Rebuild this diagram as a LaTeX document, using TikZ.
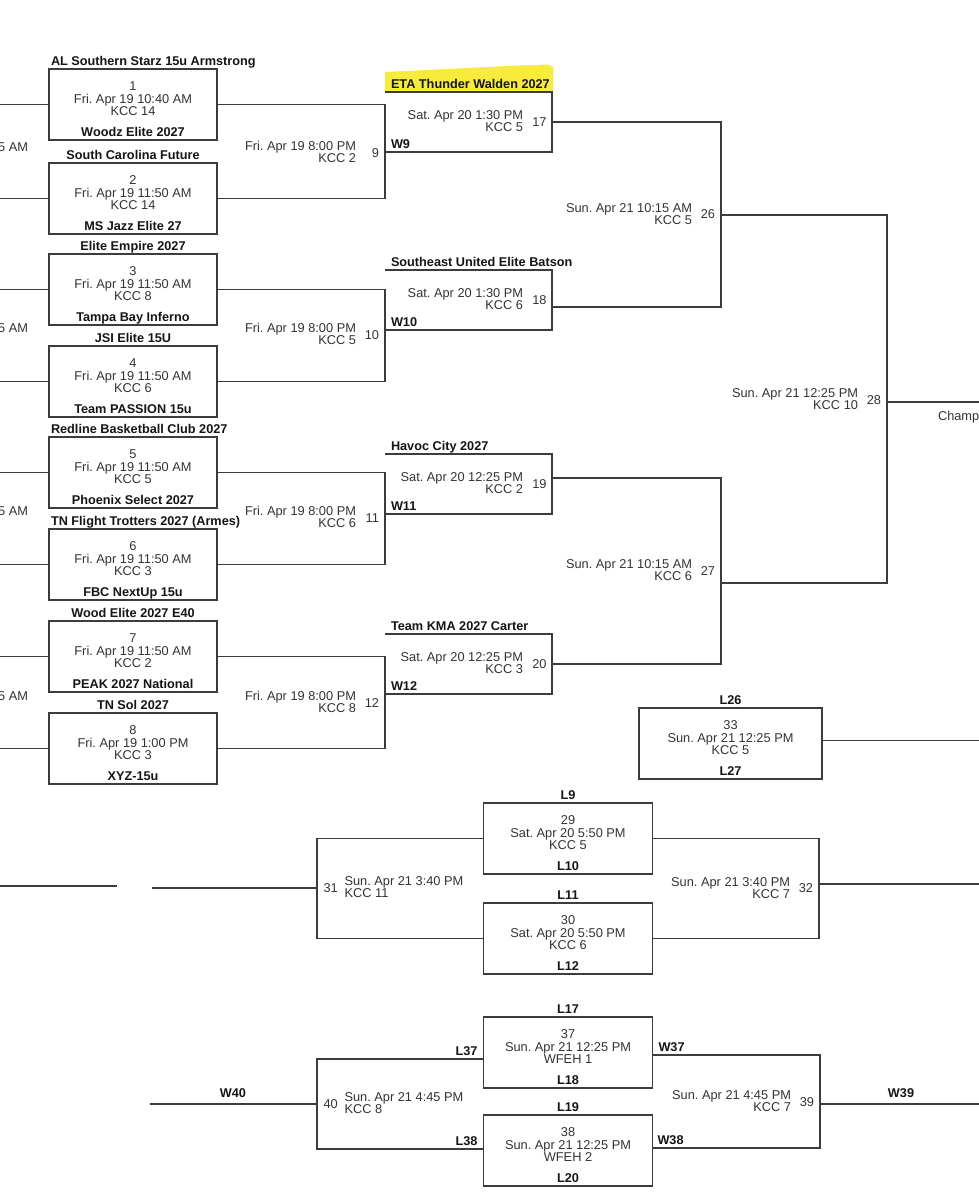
\documentclass[tikz,border=0pt]{standalone}
\usepackage{fontspec}
\setmainfont{Liberation Sans}
\frenchspacing
\definecolor{lncol}{HTML}{3C3C3C}
\definecolor{txcol}{HTML}{333333}
\definecolor{bdcol}{HTML}{151515}
\definecolor{hlcol}{RGB}{247,236,60}
\tikzset{
  every node/.style={inner sep=0pt, outer sep=0pt},
  ln/.style={draw=lncol, line width=1.1pt},
  gbox/.style={draw=lncol, line width=1.1pt, rectangle, minimum width=168pt, minimum height=71pt, anchor=north west},
  hbox/.style={rectangle, minimum width=167pt, minimum height=60pt, anchor=north west},
  txt/.style={font=\fontsize{12.8}{13}\selectfont, text=txcol},
  bld/.style={font=\fontsize{12.7}{13}\selectfont\bfseries, text=bdcol},
}
% full game box: #1 options, #2 name, #3 x, #4 top y, #5 number, #6 date, #7 court, #8 bottom label
\newcommand\rbox[8][]{%
  \node[gbox,#1] (#2) at (#3,#4) {};
  \node[txt, anchor=base] (#2n) at ([yshift=-21pt]#2.north) {#5};
  \node[txt, anchor=base] (#2d) at ([yshift=-34.5pt]#2.north) {#6};
  \node[txt, anchor=base] (#2c) at ([yshift=-46.8pt]#2.north) {#7};
  \node[bld, anchor=base] (#2b) at ([yshift=4pt]#2.south) {#8};
}
% open game box (second round): #1 name, #2 top y, #3 date, #4 court, #5 number, #6 top label, #7 bottom label
\newcommand\obox[7]{%
  \node[hbox] (#1) at (385,#2) {};
  \draw[ln] (#1.north west) -- (#1.north east) -- (#1.south east) -- (#1.south west);
  \node[txt, anchor=base east] (#1d) at ([xshift=-29pt, yshift=-27pt]#1.north east) {#3};
  \node[txt, anchor=base east] (#1c) at ([xshift=-29pt, yshift=-39.5pt]#1.north east) {#4};
  \node[txt, anchor=base east] (#1n) at ([xshift=-5.5pt, yshift=-34.5pt]#1.north east) {#5};
  \node[bld, anchor=base west] (#1t) at ([xshift=6pt, yshift=4pt]#1.north west) {#6};
  \node[bld, anchor=base west] (#1b) at ([xshift=6pt, yshift=4pt]#1.south west) {#7};
}
% bracket labels left of a vertical: #1 name, #2 coordinate, #3 date, #4 court, #5 number
\newcommand\lbl[5]{%
  \node[txt, anchor=base east] (#1d) at ([xshift=-29pt, yshift=2pt]#2) {#3};
  \node[txt, anchor=base east] (#1c) at ([xshift=-29pt, yshift=-10pt]#2) {#4};
  \node[txt, anchor=base east] (#1n) at ([xshift=-6pt, yshift=-4.5pt]#2) {#5};
}
% bracket labels right of a vertical
\newcommand\rlbl[5]{%
  \node[txt, anchor=base west] (#1d) at ([xshift=27.5pt, yshift=2.5pt]#2) {#3};
  \node[txt, anchor=base west] (#1c) at ([xshift=27.5pt, yshift=-9.5pt]#2) {#4};
  \node[txt, anchor=base west] (#1n) at ([xshift=6.5pt, yshift=-4.5pt]#2) {#5};
}
\begin{document}
\begin{tikzpicture}[x=1pt, y=-1pt]
\useasboundingbox (0,0) rectangle (979,1200);
\clip (0,0) rectangle (979,1200);
\fill[white] (0,0) rectangle (979,1200);
\coordinate (el) at (0,0);
\coordinate (er) at (979,0);

% highlight behind ETA Thunder Walden 2027
\fill[hlcol] (385,72) .. controls (450,69) and (500,66) .. (548,64.5) -- (553,67) -- (553,92) -- (385,93) -- cycle;

% ---- first round ----
\rbox{m1}{49}{69}{1}{Fri. Apr 19 10:40 AM}{KCC 14}{Woodz Elite 2027}
\rbox{m2}{49}{163}{2}{Fri. Apr 19 11:50 AM}{KCC 14}{MS Jazz Elite 27}
\rbox{m3}{49}{254}{3}{Fri. Apr 19 11:50 AM}{KCC 8}{Tampa Bay Inferno}
\rbox{m4}{49}{346}{4}{Fri. Apr 19 11:50 AM}{KCC 6}{Team PASSION 15u}
\rbox{m5}{49}{437}{5}{Fri. Apr 19 11:50 AM}{KCC 5}{Phoenix Select 2027}
\rbox{m6}{49}{529}{6}{Fri. Apr 19 11:50 AM}{KCC 3}{FBC NextUp 15u}
\rbox{m7}{49}{621}{7}{Fri. Apr 19 11:50 AM}{KCC 2}{PEAK 2027 National}
\rbox{m8}{49}{713}{8}{Fri. Apr 19 1:00 PM}{KCC 3}{XYZ-15u}

\node[bld, anchor=base west] (m1t) at ([xshift=2pt, yshift=4pt]m1.north west) {AL Southern Starz 15u Armstrong};
\node[bld, anchor=base] (m2t) at ([yshift=4pt]m2.north) {South Carolina Future};
\node[bld, anchor=base] (m3t) at ([yshift=4pt]m3.north) {Elite Empire 2027};
\node[bld, anchor=base] (m4t) at ([yshift=4pt]m4.north) {JSI Elite 15U};
\node[bld, anchor=base west] (m5t) at ([xshift=2pt, yshift=4pt]m5.north west) {Redline Basketball Club 2027};
\node[bld, anchor=base west] (m6t) at ([xshift=2pt, yshift=4pt]m6.north west) {TN Flight Trotters 2027 (Armes)};
\node[bld, anchor=base] (m7t) at ([yshift=4pt]m7.north) {Wood Elite 2027 E40};
\node[bld, anchor=base] (m8t) at ([yshift=4pt]m8.north) {TN Sol 2027};

% stubs to the left edge
\foreach \m in {m1,m2,m3,m4,m5,m6,m7,m8} {\draw[ln] (\m.west) -- (\m.west -| el);}
\node[txt, anchor=base east] (am1) at (28,151) {5 AM};
\node[txt, anchor=base east] (am2) at (28,332) {5 AM};
\node[txt, anchor=base east] (am3) at (28,515.5) {5 AM};
\node[txt, anchor=base east] (am4) at (28,700.5) {5 AM};

% ---- second round ----
\obox{m17}{92}{Sat. Apr 20 1:30 PM}{KCC 5}{17}{ETA Thunder Walden 2027}{W9}
\obox{m18}{270}{Sat. Apr 20 1:30 PM}{KCC 6}{18}{Southeast United Elite Batson}{W10}
\obox{m19}{454}{Sat. Apr 20 12:25 PM}{KCC 2}{19}{Havoc City 2027}{W11}
\obox{m20}{634}{Sat. Apr 20 12:25 PM}{KCC 3}{20}{Team KMA 2027 Carter}{W12}

\draw[ln] (m1.east) -| (m17.south west) |- (m2.east);
\draw[ln] (m3.east) -| (m18.south west) |- (m4.east);
\draw[ln] (m5.east) -| (m19.south west) |- (m6.east);
\draw[ln] (m7.east) -| (m20.south west) |- (m8.east);

\coordinate (b9) at (385,152.5);
\coordinate (b10) at (385,334.5);
\coordinate (b11) at (385,517.5);
\coordinate (b12) at (385,702.5);
\lbl{g9}{b9}{Fri. Apr 19 8:00 PM}{KCC 2}{9}
\lbl{g10}{b10}{Fri. Apr 19 8:00 PM}{KCC 5}{10}
\lbl{g11}{b11}{Fri. Apr 19 8:00 PM}{KCC 6}{11}
\lbl{g12}{b12}{Fri. Apr 19 8:00 PM}{KCC 8}{12}

% ---- semifinals and final ----
\coordinate (j26) at (721,215);
\coordinate (j27) at (721,583);
\coordinate (j28) at (887,402);
\draw[ln] (m17.east) -| (j26) |- ([yshift=-7pt]m18.east);
\draw[ln] ([yshift=6pt]m19.east) -| (j27) |- (m20.east);
\draw[ln] (j26) -| (j28) |- (j27);
\draw[ln] (j28) -- (j28 -| er);

\coordinate (b26) at (721,214);
\coordinate (b27) at (721,570.5);
\coordinate (b28) at (887,399.5);
\lbl{g26}{b26}{Sun. Apr 21 10:15 AM}{KCC 5}{26}
\lbl{g27}{b27}{Sun. Apr 21 10:15 AM}{KCC 6}{27}
\lbl{g28}{b28}{Sun. Apr 21 12:25 PM}{KCC 10}{28}
\node[txt, anchor=base west] (champ) at ([xshift=51pt, yshift=-18.7pt]j28) {Champ};

% ---- game 33 ----
\rbox[minimum width=183pt]{m33}{639}{708}{33}{Sun. Apr 21 12:25 PM}{KCC 5}{L27}
\node[bld, anchor=base] (m33t) at ([yshift=4pt]m33.north) {L26};
\draw[ln] ([yshift=3pt]m33.east) -- ([yshift=3pt]m33.east -| er);

% ---- games 29-32 ----
\rbox[minimum width=169pt]{m29}{483.5}{803}{29}{Sat. Apr 20 5:50 PM}{KCC 5}{L10}
\rbox[minimum width=169pt]{m30}{483.5}{903}{30}{Sat. Apr 20 5:50 PM}{KCC 6}{L12}
\node[bld, anchor=base] (m29t) at ([yshift=4pt]m29.north) {L9};
\node[bld, anchor=base] (m30t) at ([yshift=4pt]m30.north) {L11};

\coordinate (j31) at (317,888);
\coordinate (s31) at (152,888);
\coordinate (s0a) at (0,886);
\coordinate (s0b) at (117,886);
\coordinate (j32) at (819,884);
\draw[ln] (m29.west) -| (j31) |- (m30.west);
\draw[ln] (j31) -- (s31);
\draw[ln] (s0a) -- (s0b);
\draw[ln] (m29.east) -| (j32) |- (m30.east);
\draw[ln] (j32) -- (j32 -| er);
\coordinate (b31) at (317,888);
\coordinate (b32) at (819,888);
\rlbl{g31}{b31}{Sun. Apr 21 3:40 PM}{KCC 11}{31}
\lbl{g32}{b32}{Sun. Apr 21 3:40 PM}{KCC 7}{32}

% ---- games 37-40 ----
\rbox[minimum width=169pt]{m37}{483.5}{1017}{37}{Sun. Apr 21 12:25 PM}{WFEH 1}{L18}
\rbox[minimum width=169pt]{m38}{483.5}{1115}{38}{Sun. Apr 21 12:25 PM}{WFEH 2}{L20}
\node[bld, anchor=base] (m37t) at ([yshift=4pt]m37.north) {L17};
\node[bld, anchor=base] (m38t) at ([yshift=4pt]m38.north) {L19};

\coordinate (j40) at (317,1104);
\coordinate (s40) at (150,1104);
\coordinate (j39) at (820,1104);
\draw[ln] ([yshift=-6.5pt]m37.west) -| (j40) |- ([yshift=1.5pt]m38.west);
\draw[ln] (j40) -- (s40);
\draw[ln] ([yshift=-2.5pt]m37.east) -| (j39) |- ([yshift=2.5pt]m38.east);
\draw[ln] (j39) -- (j39 -| er);
\coordinate (b40) at (317,1104);
\coordinate (b39) at (820,1101.5);
\rlbl{g40}{b40}{Sun. Apr 21 4:45 PM}{KCC 8}{40}
\lbl{g39}{b39}{Sun. Apr 21 4:45 PM}{KCC 7}{39}

\node[bld, anchor=base east] (l37) at ([xshift=-6pt, yshift=-2.5pt]m37.west) {L37};
\node[bld, anchor=base east] (l38) at ([xshift=-6pt, yshift=4.8pt]m38.west) {L38};
\node[bld, anchor=base west] (w37) at ([xshift=6pt, yshift=1.5pt]m37.east) {W37};
\node[bld, anchor=base west] (w38) at ([xshift=5pt, yshift=6.2pt]m38.east) {W38};
\node[bld, anchor=base] (w40) at ([xshift=-84pt, yshift=6.3pt]j40) {W40};
\node[bld, anchor=base] (w39) at ([xshift=81pt, yshift=6.3pt]j39) {W39};
\end{tikzpicture}
\end{document}
